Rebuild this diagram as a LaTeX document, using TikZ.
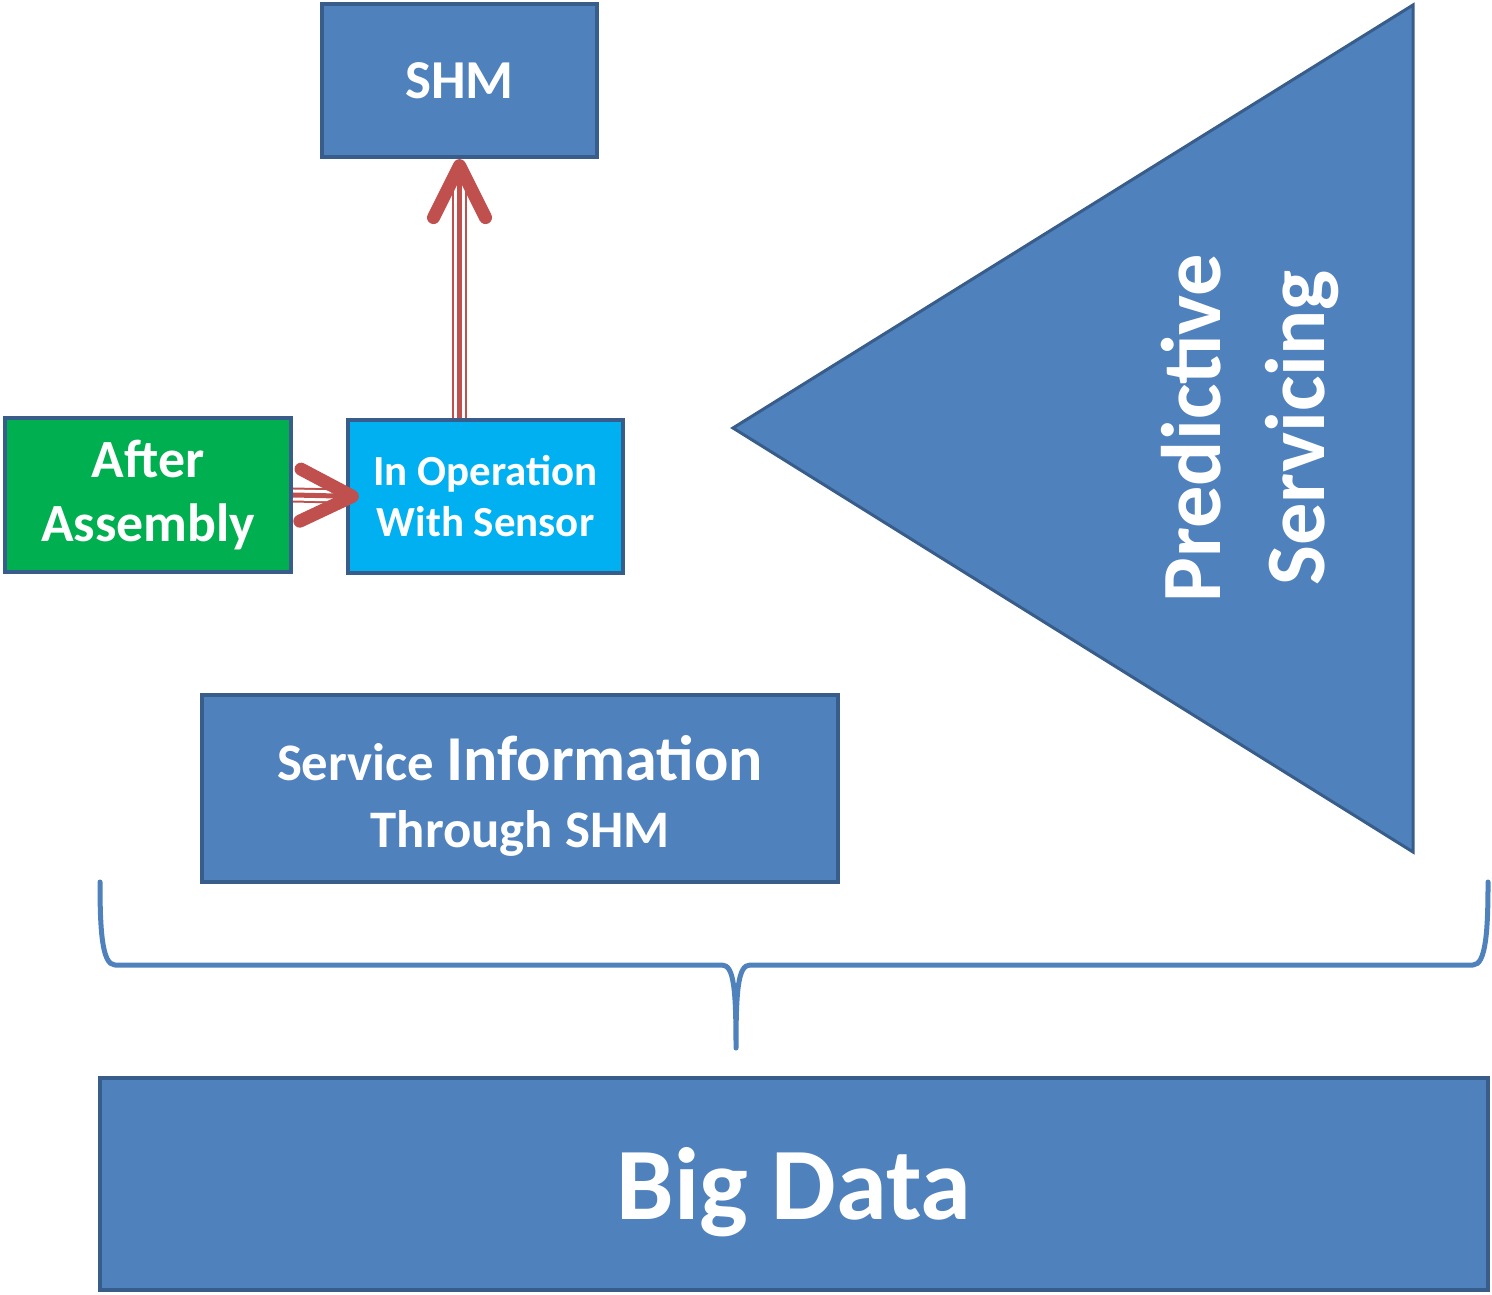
\documentclass[tikz,border=0pt]{standalone}
\usepackage{fontspec}
\setmainfont{Carlito}
\usepackage{tikz}
\usetikzlibrary{arrows.meta,positioning}

\definecolor{blokblauw}{HTML}{4F81BD}
\definecolor{blokrand}{HTML}{385D8A}
\definecolor{bloklicht}{HTML}{00B0F0}
\definecolor{blokgroen}{HTML}{00B050}
\definecolor{pijlrood}{HTML}{C0504D}

\begin{document}
\begin{tikzpicture}[x=0.01cm,y=-0.01cm,
    blok/.style={draw=blokrand, fill=blokblauw, line width=0.04cm, text=white,
        font=\bfseries, align=center, inner sep=0pt},
    pijl/.style={draw=pijlrood, line width=0.05cm,
        -{Straight Barb[length=0.52cm, width=0.52cm, line width=0.13cm, round]},
        preaction={draw=pijlrood, -, line width=0.02cm, double=white,
            double distance=0.11cm, shorten >=0.25cm}}]
    \useasboundingbox (0,0) rectangle (1492,1295);

    \node[blok, minimum width=2.75cm, minimum height=1.53cm,
        font=\bfseries\fontsize{15.6}{19}\selectfont] (shm) at (459.5,80.5) {SHM};
    \node[blok, fill=blokgroen, minimum width=2.86cm, minimum height=1.53cm,
        font=\bfseries\fontsize{15.3}{18}\selectfont] (assemblage) at (148,495) {After\\Assembly};
    \node[blok, fill=bloklicht, minimum width=2.75cm, minimum height=1.53cm,
        font=\bfseries\fontsize{12.2}{14.5}\selectfont] (werking) at (485.5,496.5) {In Operation\\With Sensor};
    \node[blok, minimum width=6.36cm, minimum height=1.87cm,
        font=\bfseries\fontsize{15}{19}\selectfont] (service) at (520,788.5)
        {\rule{0pt}{0.6cm}Service {\fontsize{18.2}{19}\selectfont Information}\\Through SHM};
    \node[blok, minimum width=13.88cm, minimum height=2.12cm, text height=0.9cm, text depth=0.2cm,
        font=\bfseries\fontsize{29.2}{30}\selectfont] (bigdata) at (794,1184) {Big Data};

    % driehoek
    \draw[blok, line width=0.03cm] (733,428) -- (1413,5) -- (1413,852) -- cycle;
    \node[rotate=90, text=white, align=center, font=\bfseries\fontsize{24}{29.5}\selectfont]
        (voorspel) at (1250,428) {Predictive\\Servicing};

    % accolade
    \coordinate (accl) at (100,882);
    \coordinate (accr) at (1488,882);
    \coordinate (punt) at (736,1048);
    \draw[blokblauw, line width=0.05cm, line cap=round, line join=round]
        (accl) .. controls (100,930) and (102,965) .. (115,965) -- (722,965)
        .. controls (734,965) and (736,990) .. (punt)
        .. controls (736,990) and (738,965) .. (750,965) -- (1473,965)
        .. controls (1486,965) and (1488,930) .. (accr);

    \draw[pijl] (assemblage.east) -- ([xshift=0.13cm]werking.west);
    \draw[pijl] (shm.south |- werking.north) -- (shm.south);
\end{tikzpicture}
\end{document}
